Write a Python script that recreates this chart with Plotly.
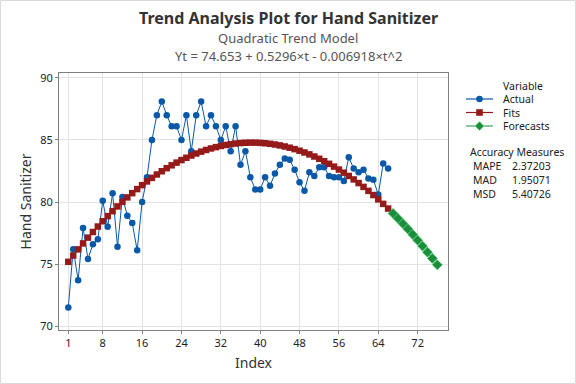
import plotly.graph_objects as go

t_actual = list(range(1, 67))
actual = [71.5, 76.2, 73.7, 77.9, 75.4, 76.6, 77.0, 80.1, 78.0, 80.7,
          76.4, 80.4, 78.9, 78.3, 76.1, 80.0, 82.0, 85.0, 87.0, 88.1,
          87.0, 86.1, 86.1, 85.0, 87.0, 84.1, 87.0, 88.1, 86.1, 87.0,
          86.1, 85.0, 86.1, 84.1, 86.1, 83.0, 84.1, 82.0, 81.0, 81.0,
          82.0, 81.3, 82.3, 83.0, 83.5, 83.4, 82.6, 81.6, 80.9, 82.4,
          82.1, 82.8, 82.8, 82.1, 82.0, 82.0, 81.7, 83.6, 82.7, 82.4,
          82.6, 81.9, 81.8, 80.6, 83.1, 82.7]

fits = [75.176, 75.685, 76.180, 76.661, 77.128, 77.582, 78.021, 78.447, 78.859, 79.257,
        79.642, 80.012, 80.369, 80.712, 81.041, 81.356, 81.657, 81.944, 82.218, 82.478,
        82.724, 82.956, 83.174, 83.379, 83.569, 83.746, 83.909, 84.058, 84.193, 84.315,
        84.422, 84.516, 84.596, 84.662, 84.715, 84.753, 84.778, 84.788, 84.785, 84.768,
        84.737, 84.693, 84.634, 84.562, 84.476, 84.376, 84.262, 84.135, 83.993, 83.838,
        83.669, 83.486, 83.289, 83.079, 82.854, 82.616, 82.364, 82.098, 81.818, 81.524,
        81.217, 80.895, 80.560, 80.211, 79.849, 79.472]

t_forecast = list(range(67, 77))
forecasts = [79.081, 78.677, 78.259, 77.827, 77.380, 76.920, 76.445, 75.956, 75.452, 74.935]

x_ticks = [1, 8, 16, 24, 32, 40, 48, 56, 64, 72]
y_ticks = [70, 75, 80, 85, 90]

legend_names = ["Actual", "Fits", "Forecasts"]
measure_names = ["MAPE", "MAD", "MSD"]
measure_values = ["2.37203", "1.95071", "5.40726"]

BLUE = "#0A58A8"
RED = "#951B1B"
GREEN = "#1A8E3C"
FONT = "Noto Sans"
TXT = "#222222"

W, H = 576, 384
L, R, T, B = 59, 128, 73, 54
PW, PH = W - L - R, H - T - B


def px(x):
    return (x - L) / PW


def py(y):
    return 1 - (y - T) / PH


fig = go.Figure()
fig.add_trace(go.Scatter(x=t_actual, y=actual, mode="lines+markers", name="Actual",
                         line=dict(color=BLUE, width=1),
                         marker=dict(symbol="circle", size=6.5, color=BLUE)))
fig.add_trace(go.Scatter(x=t_actual, y=fits, mode="lines+markers", name="Fits",
                         line=dict(color=RED, width=1),
                         marker=dict(symbol="square", size=6.5, color=RED)))
fig.add_trace(go.Scatter(x=t_forecast, y=forecasts, mode="lines+markers", name="Forecasts",
                         line=dict(color=GREEN, width=1, dash="dash"),
                         marker=dict(symbol="diamond", size=7.5, color=GREEN,
                                     line=dict(color="#2db84f", width=0.8))))

ann = [
    dict(text="<b>Trend Analysis Plot for Hand Sanitizer</b>", x=px(288), y=py(18),
         font=dict(size=16, color="#333333")),
    dict(text="Quadratic Trend Model", x=px(288), y=py(38),
         font=dict(size=13, color="#555555")),
    dict(text="Yt = 74.653 + 0.5296×t - 0.006918×t^2", x=px(288), y=py(56),
         font=dict(size=13, color="#555555")),
    dict(text="Variable", x=px(501), y=py(86), xanchor="left",
         font=dict(size=10.5, color=TXT)),
    dict(text="Accuracy Measures", x=px(468), y=py(152), xanchor="left",
         font=dict(size=10.5, color=TXT)),
]
rows_y = [166, 180, 194]
for name, val, yy in zip(measure_names, measure_values, rows_y):
    ann.append(dict(text=name, x=px(471), y=py(yy), xanchor="left",
                    font=dict(size=10.5, color=TXT)))
    ann.append(dict(text=val, x=px(553), y=py(yy), xanchor="right",
                    font=dict(size=10.5, color=TXT)))

# manual legend
leg_y = [99, 112.5, 126]
leg_cols = [BLUE, RED, GREEN]
shapes = [dict(type="rect", xref="paper", yref="paper",
               x0=px(0.5), x1=px(575.5), y0=py(383.5), y1=py(0.5),
               line=dict(color="#d9d9d9", width=1), layer="below")]
for i, (nm, yy, col) in enumerate(zip(legend_names, leg_y, leg_cols)):
    ann.append(dict(text=nm, x=px(501), y=py(yy), xanchor="left",
                    font=dict(size=10.5, color=TXT)))
    shapes.append(dict(type="line", xref="paper", yref="paper",
                       x0=px(466), x1=px(493), y0=py(yy), y1=py(yy),
                       line=dict(color=col, width=1.2,
                                 dash="dash" if i == 2 else "solid")))
    cx = 479.5
    if i == 0:
        shapes.append(dict(type="circle", xref="paper", yref="paper",
                           x0=px(cx - 3.3), x1=px(cx + 3.3), y0=py(yy + 3.3), y1=py(yy - 3.3),
                           fillcolor=col, line=dict(color=col, width=0)))
    elif i == 1:
        shapes.append(dict(type="rect", xref="paper", yref="paper",
                           x0=px(cx - 3.3), x1=px(cx + 3.3), y0=py(yy + 3.3), y1=py(yy - 3.3),
                           fillcolor=col, line=dict(color=col, width=0)))
    else:
        d = 4.2
        path = "M {:.5f},{:.5f} L {:.5f},{:.5f} L {:.5f},{:.5f} L {:.5f},{:.5f} Z".format(
            px(cx), py(yy - d), px(cx + d), py(yy), px(cx), py(yy + d), px(cx - d), py(yy))
        shapes.append(dict(type="path", xref="paper", yref="paper", path=path,
                           fillcolor=col, line=dict(color="#2db84f", width=0.8)))

for a in ann:
    a.update(xref="paper", yref="paper", showarrow=False, yanchor="middle")
    a.setdefault("xanchor", "center")

fig.update_layout(
    width=W, height=H,
    margin=dict(l=L, r=R, t=T, b=B),
    paper_bgcolor="white", plot_bgcolor="white",
    font=dict(family=FONT, size=11, color=TXT),
    annotations=ann,
    showlegend=False,
    shapes=shapes,
)
fig.update_xaxes(range=[-0.89, 78.17], tickvals=x_ticks, showgrid=True,
                 gridcolor="#e3e3e3", gridwidth=1, zeroline=False,
                 showline=True, linecolor="#7f7f7f", linewidth=1, mirror=True,
                 ticks="outside", ticklen=3, tickcolor="#7f7f7f",
                 tickfont=dict(size=11, color=TXT),
                 title=dict(text="Index", font=dict(size=14, color="#333333"), standoff=8))
fig.update_yaxes(range=[69.68, 90.4], tickvals=y_ticks, showgrid=True,
                 gridcolor="#e3e3e3", gridwidth=1, zeroline=False,
                 showline=True, linecolor="#7f7f7f", linewidth=1, mirror=True,
                 ticks="outside", ticklen=3, tickcolor="#7f7f7f",
                 tickfont=dict(size=11, color=TXT),
                 title=dict(text="Hand Sanitizer", font=dict(size=14, color="#333333"), standoff=5))

fig.write_html("out.html", config={"displayModeBar": False},
               post_script="document.body.style.margin='0';")
